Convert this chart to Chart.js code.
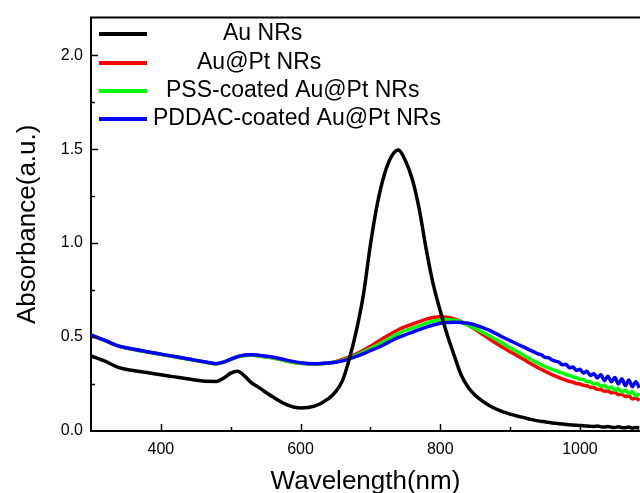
<!DOCTYPE html>
<html>
<head>
<meta charset="utf-8">
<title>Absorbance spectra</title>
<script src="https://cdn.jsdelivr.net/npm/chart.js@4.4.0/dist/chart.umd.min.js"></script>
<style>
    html, body { margin: 0; padding: 0; background: #fff; }
    #wrap { width: 640px; height: 493px; }
</style>
</head>
<body>
<div id="wrap"><canvas id="spectraChart" width="640" height="493"></canvas></div>
<script>
// Data
const wavelengths = [
    300, 320, 340, 360, 380, 400, 420, 440, 460, 480,
    490, 500, 510, 520, 530, 540, 560, 580, 600, 620,
    640, 650, 660, 670, 680, 690, 700, 710, 720, 730,
    740, 750, 760, 770, 780, 790, 800, 810, 820, 830,
    840, 850, 860, 870, 880, 890, 900, 910, 920, 930,
    940, 945, 950, 955, 960, 965, 970, 975, 980, 985,
    990, 995, 1000, 1005, 1010, 1015, 1020, 1025, 1030, 1035,
    1040, 1045, 1050, 1055, 1060, 1065, 1070, 1075, 1080, 1085
];

const auNRs = [
    0.400, 0.372, 0.337, 0.322, 0.311, 0.299, 0.288, 0.277, 0.266, 0.264,
    0.282, 0.308, 0.318, 0.292, 0.256, 0.232, 0.182, 0.140, 0.122, 0.132,
    0.172, 0.208, 0.268, 0.385, 0.535, 0.725, 0.990, 1.210, 1.365, 1.460,
    1.495, 1.440, 1.340, 1.180, 0.965, 0.780, 0.640, 0.512, 0.402, 0.298,
    0.233, 0.190, 0.160, 0.136, 0.117, 0.102, 0.090, 0.080, 0.071, 0.062,
    0.054, 0.051, 0.049, 0.046, 0.043, 0.041, 0.039, 0.037, 0.035, 0.033,
    0.032, 0.030, 0.029, 0.028, 0.026, 0.025, 0.024, 0.027, 0.022, 0.021,
    0.024, 0.020, 0.019, 0.022, 0.018, 0.017, 0.021, 0.016, 0.019, 0.016
];

const auPtNRs = [
    0.510, 0.481, 0.451, 0.435, 0.421, 0.408, 0.395, 0.382, 0.369, 0.358,
    0.366, 0.381, 0.395, 0.402, 0.404, 0.400, 0.390, 0.373, 0.361, 0.357,
    0.362, 0.369, 0.381, 0.395, 0.411, 0.430, 0.451, 0.474, 0.497, 0.519,
    0.539, 0.555, 0.568, 0.582, 0.595, 0.604, 0.608, 0.605, 0.597, 0.582,
    0.563, 0.541, 0.516, 0.491, 0.467, 0.444, 0.422, 0.401, 0.380, 0.358,
    0.337, 0.327, 0.318, 0.309, 0.300, 0.292, 0.284, 0.277, 0.270, 0.264,
    0.260, 0.252, 0.250, 0.243, 0.241, 0.233, 0.231, 0.222, 0.221, 0.212,
    0.214, 0.203, 0.206, 0.194, 0.196, 0.183, 0.188, 0.170, 0.176, 0.162
];

const pssAuPtNRs = [
    0.510, 0.481, 0.451, 0.435, 0.421, 0.408, 0.395, 0.382, 0.369, 0.358,
    0.366, 0.381, 0.395, 0.402, 0.404, 0.400, 0.390, 0.373, 0.361, 0.357,
    0.362, 0.367, 0.376, 0.389, 0.404, 0.421, 0.439, 0.458, 0.478, 0.499,
    0.518, 0.535, 0.547, 0.561, 0.574, 0.585, 0.591, 0.593, 0.589, 0.579,
    0.563, 0.546, 0.527, 0.507, 0.487, 0.465, 0.444, 0.423, 0.402, 0.381,
    0.361, 0.352, 0.343, 0.336, 0.328, 0.322, 0.314, 0.309, 0.300, 0.296,
    0.288, 0.284, 0.275, 0.274, 0.263, 0.262, 0.250, 0.253, 0.238, 0.243,
    0.226, 0.234, 0.216, 0.226, 0.206, 0.218, 0.198, 0.210, 0.186, 0.200
];

const pddacAuPtNRs = [
    0.511, 0.482, 0.452, 0.436, 0.422, 0.409, 0.396, 0.383, 0.370, 0.359,
    0.367, 0.382, 0.396, 0.404, 0.406, 0.403, 0.394, 0.377, 0.363, 0.358,
    0.362, 0.366, 0.373, 0.384, 0.397, 0.412, 0.428, 0.443, 0.461, 0.480,
    0.498, 0.512, 0.525, 0.540, 0.553, 0.564, 0.573, 0.578, 0.579, 0.577,
    0.573, 0.564, 0.551, 0.537, 0.518, 0.499, 0.481, 0.463, 0.446, 0.428,
    0.411, 0.405, 0.392, 0.390, 0.378, 0.372, 0.366, 0.352, 0.355, 0.336,
    0.340, 0.322, 0.328, 0.309, 0.318, 0.296, 0.305, 0.282, 0.300, 0.268,
    0.292, 0.262, 0.285, 0.250, 0.278, 0.242, 0.272, 0.236, 0.262, 0.230
];

const seriesLabels = ['Au NRs', 'Au@Pt NRs', 'PSS-coated Au@Pt NRs', 'PDDAC-coated Au@Pt NRs'];
const seriesColors = ['#000000', '#ff0000', '#00ff00', '#0000ff'];

const xMajorTicks = [400, 600, 800, 1000];
const xMinorTicks = [500, 700, 900];
const yMajorTicks = [0.0, 0.5, 1.0, 1.5, 2.0];
const yMinorTicks = [0.25, 0.75, 1.25, 1.75];

const FONT = 'Arial, "Liberation Sans", sans-serif';

function toPoints(values) {
    return wavelengths.map((w, i) => ({ x: w, y: values[i] }));
}

// inward tick marks + top frame line
const frameTicks = {
    id: 'frameTicks',
    afterDraw(chart) {
        const { ctx, chartArea, scales } = chart;
        ctx.save();
        ctx.strokeStyle = '#000';
        ctx.lineWidth = 2;
        ctx.beginPath();
        ctx.moveTo(chartArea.left - 1, chartArea.top);
        ctx.lineTo(chartArea.right, chartArea.top);
        ctx.stroke();

        ctx.lineWidth = 1.5;
        const xTicks = (vals, len) => vals.forEach(v => {
            const px = Math.round(scales.x.getPixelForValue(v)) + 0.5;
            ctx.beginPath();
            ctx.moveTo(px, chartArea.bottom);
            ctx.lineTo(px, chartArea.bottom - len);
            ctx.stroke();
        });
        const yTicks = (vals, len) => vals.forEach(v => {
            const py = Math.round(scales.y.getPixelForValue(v)) + 0.5;
            ctx.beginPath();
            ctx.moveTo(chartArea.left, py);
            ctx.lineTo(chartArea.left + len, py);
            ctx.stroke();
        });
        xTicks(xMajorTicks, 7);
        xTicks(xMinorTicks, 4);
        yTicks(yMajorTicks.slice(1), 7);
        yTicks(yMinorTicks, 4);
        ctx.restore();
    }
};

// legend drawn inside the plot like the original
const insideLegend = {
    id: 'insideLegend',
    afterDraw(chart) {
        const ctx = chart.ctx;
        const rowsY = [34, 63, 91, 119];
        const textX = [223, 197, 166, 153];
        ctx.save();
        ctx.font = '23px ' + FONT;
        ctx.textBaseline = 'middle';
        ctx.textAlign = 'left';
        seriesLabels.forEach((label, i) => {
            ctx.strokeStyle = seriesColors[i];
            ctx.lineWidth = 4;
            ctx.beginPath();
            ctx.moveTo(99, rowsY[i]);
            ctx.lineTo(147, rowsY[i]);
            ctx.stroke();
            ctx.fillStyle = '#000';
            ctx.fillText(label, textX[i], rowsY[i]);
        });
        ctx.restore();
    }
};

const seriesValues = [auNRs, auPtNRs, pssAuPtNRs, pddacAuPtNRs];
const drawOrder = [0, 3, 2, 1];

new Chart(document.getElementById('spectraChart'), {
    type: 'line',
    data: {
        datasets: seriesValues.map((vals, i) => ({
            label: seriesLabels[i],
            data: toPoints(vals),
            borderColor: seriesColors[i],
            backgroundColor: seriesColors[i],
            borderWidth: 3.5,
            pointRadius: 0,
            fill: false,
            cubicInterpolationMode: 'monotone',
            order: drawOrder[i]
        }))
    },
    options: {
        responsive: false,
        animation: false,
        layout: { padding: { top: 15, right: 0, bottom: 0, left: 0 } },
        plugins: {
            legend: { display: false },
            tooltip: { enabled: false }
        },
        scales: {
            x: {
                type: 'linear',
                min: 300,
                max: 1086,
                grid: { display: false, drawTicks: false },
                border: { display: true, color: '#000', width: 2 },
                afterBuildTicks(scale) { scale.ticks = xMajorTicks.map(v => ({ value: v })); },
                ticks: {
                    padding: 9,
                    color: '#000',
                    font: { family: FONT, size: 16 },
                    maxRotation: 0,
                    callback: v => String(v)
                },
                title: {
                    display: true,
                    text: 'Wavelength(nm)',
                    color: '#000',
                    font: { family: FONT, size: 26, lineHeight: 1 },
                    padding: { top: 0, bottom: -2 }
                },
                afterFit(scale) { scale.height = 62; }
            },
            y: {
                min: 0,
                max: 2.2,
                grid: { display: false, drawTicks: false },
                border: { display: true, color: '#000', width: 2 },
                afterBuildTicks(scale) { scale.ticks = yMajorTicks.map(v => ({ value: v })); },
                ticks: {
                    padding: 8,
                    color: '#000',
                    font: { family: FONT, size: 16 },
                    callback: v => Number(v).toFixed(1)
                },
                title: {
                    display: true,
                    text: 'Absorbance(a.u.)',
                    color: '#000',
                    font: { family: FONT, size: 26, lineHeight: 1 },
                    padding: { top: 15, bottom: 0 }
                },
                afterFit(scale) { scale.width = 91; }
            }
        }
    },
    plugins: [frameTicks, insideLegend]
});
</script>
</body>
</html>
